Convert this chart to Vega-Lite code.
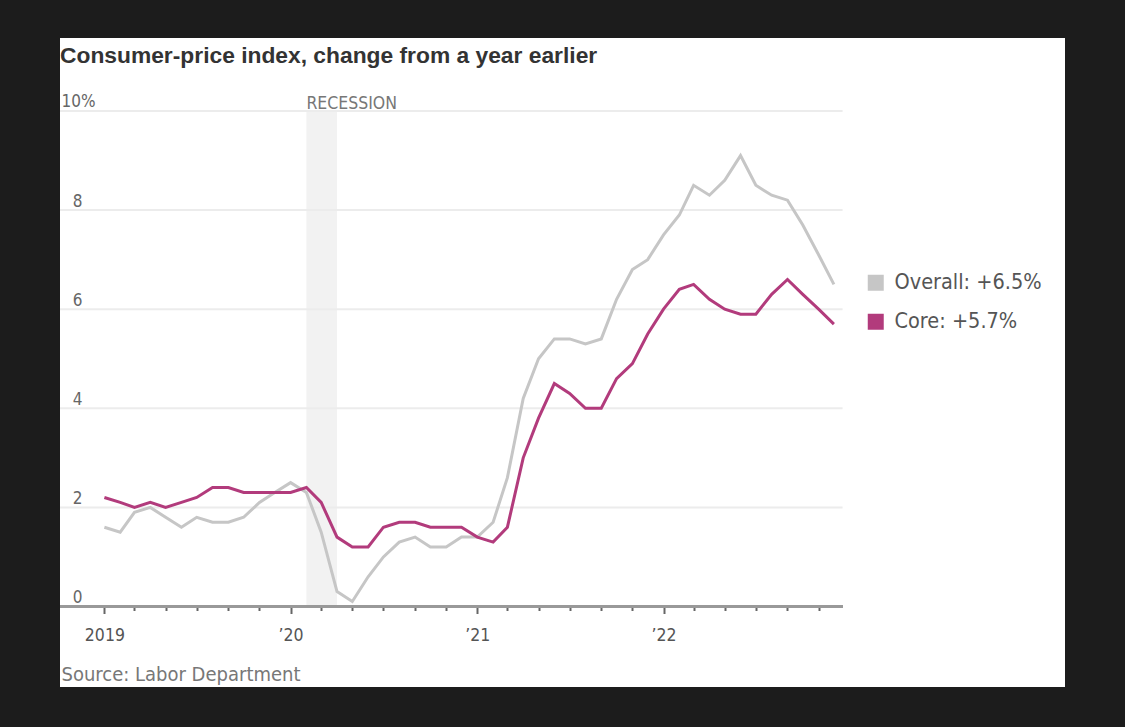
{
  "$schema": "https://vega.github.io/schema/vega-lite/v6.json",
  "width": 1005,
  "height": 649,
  "autosize": {"type": "none"},
  "padding": {"left": 60, "top": 38, "right": 60, "bottom": 40},
  "background": "#1c1c1c",
  "config": {
    "view": {"fill": "#ffffff", "stroke": null},
    "font": "DejaVu Sans Condensed"
  },
  "title": {
    "text": "Consumer-price index, change from a year earlier",
    "anchor": "start",
    "frame": "group",
    "orient": "top",
    "offset": -48,
    "baseline": "alphabetic",
    "font": "Liberation Sans",
    "fontSize": 22.8,
    "fontWeight": "bold",
    "color": "#333333"
  },
  "datasets": {
    "cpi": [
      {"date": "2019-01-01", "Overall": 1.6, "Core": 2.2},
      {"date": "2019-02-01", "Overall": 1.5, "Core": 2.1},
      {"date": "2019-03-01", "Overall": 1.9, "Core": 2.0},
      {"date": "2019-04-01", "Overall": 2.0, "Core": 2.1},
      {"date": "2019-05-01", "Overall": 1.8, "Core": 2.0},
      {"date": "2019-06-01", "Overall": 1.6, "Core": 2.1},
      {"date": "2019-07-01", "Overall": 1.8, "Core": 2.2},
      {"date": "2019-08-01", "Overall": 1.7, "Core": 2.4},
      {"date": "2019-09-01", "Overall": 1.7, "Core": 2.4},
      {"date": "2019-10-01", "Overall": 1.8, "Core": 2.3},
      {"date": "2019-11-01", "Overall": 2.1, "Core": 2.3},
      {"date": "2019-12-01", "Overall": 2.3, "Core": 2.3},
      {"date": "2020-01-01", "Overall": 2.5, "Core": 2.3},
      {"date": "2020-02-01", "Overall": 2.3, "Core": 2.4},
      {"date": "2020-03-01", "Overall": 1.5, "Core": 2.1},
      {"date": "2020-04-01", "Overall": 0.3, "Core": 1.4},
      {"date": "2020-05-01", "Overall": 0.1, "Core": 1.2},
      {"date": "2020-06-01", "Overall": 0.6, "Core": 1.2},
      {"date": "2020-07-01", "Overall": 1.0, "Core": 1.6},
      {"date": "2020-08-01", "Overall": 1.3, "Core": 1.7},
      {"date": "2020-09-01", "Overall": 1.4, "Core": 1.7},
      {"date": "2020-10-01", "Overall": 1.2, "Core": 1.6},
      {"date": "2020-11-01", "Overall": 1.2, "Core": 1.6},
      {"date": "2020-12-01", "Overall": 1.4, "Core": 1.6},
      {"date": "2021-01-01", "Overall": 1.4, "Core": 1.4},
      {"date": "2021-02-01", "Overall": 1.7, "Core": 1.3},
      {"date": "2021-03-01", "Overall": 2.6, "Core": 1.6},
      {"date": "2021-04-01", "Overall": 4.2, "Core": 3.0},
      {"date": "2021-05-01", "Overall": 5.0, "Core": 3.8},
      {"date": "2021-06-01", "Overall": 5.4, "Core": 4.5},
      {"date": "2021-07-01", "Overall": 5.4, "Core": 4.3},
      {"date": "2021-08-01", "Overall": 5.3, "Core": 4.0},
      {"date": "2021-09-01", "Overall": 5.4, "Core": 4.0},
      {"date": "2021-10-01", "Overall": 6.2, "Core": 4.6},
      {"date": "2021-11-01", "Overall": 6.8, "Core": 4.9},
      {"date": "2021-12-01", "Overall": 7.0, "Core": 5.5},
      {"date": "2022-01-01", "Overall": 7.5, "Core": 6.0},
      {"date": "2022-02-01", "Overall": 7.9, "Core": 6.4},
      {"date": "2022-03-01", "Overall": 8.5, "Core": 6.5},
      {"date": "2022-04-01", "Overall": 8.3, "Core": 6.2},
      {"date": "2022-05-01", "Overall": 8.6, "Core": 6.0},
      {"date": "2022-06-01", "Overall": 9.1, "Core": 5.9},
      {"date": "2022-07-01", "Overall": 8.5, "Core": 5.9},
      {"date": "2022-08-01", "Overall": 8.3, "Core": 6.3},
      {"date": "2022-09-01", "Overall": 8.2, "Core": 6.6},
      {"date": "2022-10-01", "Overall": 7.7, "Core": 6.3},
      {"date": "2022-11-01", "Overall": 7.1, "Core": 6.0},
      {"date": "2022-12-01", "Overall": 6.5, "Core": 5.7}
    ],
    "recession": [
      {"start": "2020-02-01", "end": "2020-04-01", "label": "RECESSION", "top": 10, "bottom": 0}
    ],
    "grid": [
      {"v": 2}, {"v": 4}, {"v": 6}, {"v": 8}, {"v": 10}
    ]
  },
  "layer": [
    {
      "data": {"name": "recession"},
      "mark": {"type": "rect", "color": "#f2f2f2"},
      "encoding": {
        "x": {"field": "start", "type": "temporal", "scale": {"type": "utc", "domain": [{"year": 2018, "month": 10, "date": 6, "utc": true}, {"year": 2024, "month": 2, "date": 27, "utc": true}], "nice": false}},
        "x2": {"field": "end"},
        "y": {"field": "top", "type": "quantitative", "scale": {"domain": [-1.625, 11.473], "nice": false, "zero": false}},
        "y2": {"field": "bottom"}
      }
    },
    {
      "data": {"name": "grid"},
      "mark": {"type": "rule", "color": "#ececec", "strokeWidth": 2},
      "encoding": {
        "y": {"field": "v", "type": "quantitative"},
        "x": {"datum": {"year": 2018, "month": 10, "date": 6, "utc": true}, "type": "temporal"},
        "x2": {"datum": {"year": 2022, "month": 12, "date": 18, "utc": true}}
      }
    },
    {
      "data": {"name": "recession"},
      "mark": {"type": "text", "align": "left", "baseline": "alphabetic", "dy": -2, "fontSize": 17.5, "color": "#777777"},
      "encoding": {
        "x": {"field": "start", "type": "temporal"},
        "y": {"field": "top", "type": "quantitative"},
        "text": {"field": "label"}
      }
    },
    {
      "data": {"name": "grid"},
      "mark": {"type": "rule", "color": "#999999", "strokeWidth": 3},
      "encoding": {
        "y": {"datum": 0, "type": "quantitative"},
        "x": {"datum": {"year": 2018, "month": 10, "date": 6, "utc": true}, "type": "temporal"},
        "x2": {"datum": {"year": 2022, "month": 12, "date": 18, "utc": true}}
      }
    },
    {
      "data": {"name": "cpi"},
      "transform": [{"fold": ["Overall", "Core"]}],
      "mark": {"type": "line", "strokeWidth": 3},
      "encoding": {
        "x": {
          "field": "date",
          "type": "temporal",
          "axis": {
            "values": [
              {"year": 2019, "month": 1, "date": 1, "utc": true}, {"year": 2019, "month": 2, "date": 1, "utc": true}, {"year": 2019, "month": 3, "date": 1, "utc": true}, {"year": 2019, "month": 4, "date": 1, "utc": true}, {"year": 2019, "month": 5, "date": 1, "utc": true}, {"year": 2019, "month": 6, "date": 1, "utc": true}, {"year": 2019, "month": 7, "date": 1, "utc": true}, {"year": 2019, "month": 8, "date": 1, "utc": true}, {"year": 2019, "month": 9, "date": 1, "utc": true}, {"year": 2019, "month": 10, "date": 1, "utc": true}, {"year": 2019, "month": 11, "date": 1, "utc": true}, {"year": 2019, "month": 12, "date": 1, "utc": true},
              {"year": 2020, "month": 1, "date": 1, "utc": true}, {"year": 2020, "month": 2, "date": 1, "utc": true}, {"year": 2020, "month": 3, "date": 1, "utc": true}, {"year": 2020, "month": 4, "date": 1, "utc": true}, {"year": 2020, "month": 5, "date": 1, "utc": true}, {"year": 2020, "month": 6, "date": 1, "utc": true}, {"year": 2020, "month": 7, "date": 1, "utc": true}, {"year": 2020, "month": 8, "date": 1, "utc": true}, {"year": 2020, "month": 9, "date": 1, "utc": true}, {"year": 2020, "month": 10, "date": 1, "utc": true}, {"year": 2020, "month": 11, "date": 1, "utc": true}, {"year": 2020, "month": 12, "date": 1, "utc": true},
              {"year": 2021, "month": 1, "date": 1, "utc": true}, {"year": 2021, "month": 2, "date": 1, "utc": true}, {"year": 2021, "month": 3, "date": 1, "utc": true}, {"year": 2021, "month": 4, "date": 1, "utc": true}, {"year": 2021, "month": 5, "date": 1, "utc": true}, {"year": 2021, "month": 6, "date": 1, "utc": true}, {"year": 2021, "month": 7, "date": 1, "utc": true}, {"year": 2021, "month": 8, "date": 1, "utc": true}, {"year": 2021, "month": 9, "date": 1, "utc": true}, {"year": 2021, "month": 10, "date": 1, "utc": true}, {"year": 2021, "month": 11, "date": 1, "utc": true}, {"year": 2021, "month": 12, "date": 1, "utc": true},
              {"year": 2022, "month": 1, "date": 1, "utc": true}, {"year": 2022, "month": 2, "date": 1, "utc": true}, {"year": 2022, "month": 3, "date": 1, "utc": true}, {"year": 2022, "month": 4, "date": 1, "utc": true}, {"year": 2022, "month": 5, "date": 1, "utc": true}, {"year": 2022, "month": 6, "date": 1, "utc": true}, {"year": 2022, "month": 7, "date": 1, "utc": true}, {"year": 2022, "month": 8, "date": 1, "utc": true}, {"year": 2022, "month": 9, "date": 1, "utc": true}, {"year": 2022, "month": 10, "date": 1, "utc": true}, {"year": 2022, "month": 11, "date": 1, "utc": true}, {"year": 2022, "month": 12, "date": 1, "utc": true}
            ],
            "offset": -80.5,
            "domain": false,
            "grid": false,
            "tickColor": "#666666",
            "tickWidth": 2,
            "tickSize": {"condition": {"test": "utcmonth(datum.value) === 0", "value": 7}, "value": 4},
            "labelExpr": "utcmonth(datum.value) === 0 ? (utcyear(datum.value) === 2019 ? '2019' : '\u2019' + utcFormat(datum.value, '%y')) : ''",
            "labelFontSize": 17.5,
            "labelColor": "#555555",
            "labelPadding": 13,
            "labelOverlap": false,
            "labelBound": false,
            "labelFlush": false,
            "title": "Source: Labor Department",
            "titleX": 1,
            "titleY": 74,
            "titleAlign": "left",
            "titleBaseline": "alphabetic",
            "titleAnchor": "start",
            "titleFontSize": 20,
            "titleFontWeight": "normal",
            "titleColor": "#777777"
          }
        },
        "y": {
          "field": "value",
          "type": "quantitative",
          "axis": {
            "values": [0, 2, 4, 6, 8, 10],
            "grid": false,
            "domain": false,
            "ticks": false,
            "title": null,
            "labelAlign": "right",
            "labelBaseline": "alphabetic",
            "labelOffset": -4,
            "labelPadding": {"condition": {"test": "datum.value === 10", "value": -35}, "value": -22},
            "labelExpr": "datum.value === 10 ? '10%' : datum.label",
            "labelFontSize": 17,
            "labelColor": "#666666"
          }
        },
        "color": {
          "field": "key",
          "type": "nominal",
          "scale": {"domain": ["Overall", "Core"], "range": ["#c6c6c6", "#b23b7c"]},
          "legend": {
            "orient": "none",
            "legendX": 805,
            "legendY": 234,
            "title": null,
            "padding": 0,
            "symbolType": "square",
            "symbolSize": 256,
            "symbolStrokeWidth": 0,
            "labelFontSize": 21.5,
            "labelColor": "#555555",
            "labelOffset": 8,
            "labelLimit": 400,
            "rowPadding": 16,
            "labelExpr": "datum.label === 'Overall' ? 'Overall: +6.5%' : 'Core: +5.7%'",
            "encode": {
              "symbols": {
                "update": {
                  "fill": {"scale": "color", "field": "value"},
                  "stroke": {"value": "transparent"},
                  "opacity": {"value": 1}
                }
              }
            }
          }
        }
      }
    }
  ]
}
